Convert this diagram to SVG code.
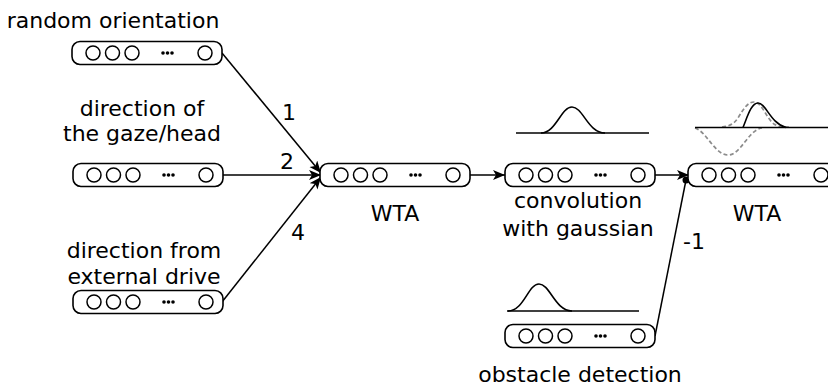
<svg xmlns="http://www.w3.org/2000/svg" width="828" height="389" viewBox="0 0 828 389">
<style>
text{font-family:"DejaVu Sans",sans-serif;font-size:22px;fill:#000;text-anchor:middle}
.box{fill:#fff;stroke:#000;stroke-width:1.6}
.c{fill:none;stroke:#000;stroke-width:1.5}
.dot{fill:#000}
.conn{fill:none;stroke:#000;stroke-width:1.5}
.curve{fill:none;stroke:#000;stroke-width:1.6}
.dash{fill:none;stroke:#8c8c8c;stroke-width:1.7;stroke-dasharray:4 2.5}
</style>
<defs>
<marker id="arr" markerUnits="userSpaceOnUse" markerWidth="14" markerHeight="12" refX="12" refY="5" orient="auto">
<path d="M0,0 L12,5 L0,10 L3,5 z" fill="#000"/>
</marker>
<g id="layer">
<rect class="box" x="0" y="-11.5" width="150" height="23" rx="8"/>
<circle class="c" cx="21" cy="0" r="7"/>
<circle class="c" cx="40.5" cy="0" r="7"/>
<circle class="c" cx="60" cy="0" r="7"/>
<circle class="dot" cx="91" cy="0" r="1.8"/>
<circle class="dot" cx="95.5" cy="0" r="1.8"/>
<circle class="dot" cx="100" cy="0" r="1.8"/>
<circle class="c" cx="133" cy="0" r="7"/>
</g>
</defs>

<g id="connectors">
<line class="conn" x1="222" y1="53" x2="321" y2="173" marker-end="url(#arr)"/>
<line class="conn" x1="222" y1="175" x2="321" y2="175" marker-end="url(#arr)"/>
<line class="conn" x1="222" y1="302" x2="321" y2="177" marker-end="url(#arr)"/>
<line class="conn" x1="470" y1="175" x2="505" y2="175" marker-end="url(#arr)"/>
<line class="conn" x1="655" y1="175" x2="689" y2="175" marker-end="url(#arr)"/>
<line class="conn" x1="655" y1="336" x2="686" y2="180"/>
<circle cx="686" cy="180" r="3.5" fill="#000"/>
<text x="289" y="120">1</text>
<text x="287" y="169">2</text>
<text x="298" y="240">4</text>
<text x="694" y="249">-1</text>
</g>

<g id="random-orientation">
<use href="#layer" x="72" y="53"/>
<text x="113" y="28">random orientation</text>
</g>

<g id="gaze">
<use href="#layer" x="73" y="175"/>
<text x="142" y="116">direction of</text>
<text x="142" y="141">the gaze/head</text>
</g>

<g id="external-drive">
<use href="#layer" x="73" y="302"/>
<text x="144" y="258">direction from</text>
<text x="144" y="284">external drive</text>
</g>

<g id="wta1">
<use href="#layer" x="320" y="175"/>
<text x="395" y="221">WTA</text>
</g>

<g id="convolution">
<use href="#layer" x="505" y="175"/>
<line class="curve" x1="516" y1="133" x2="649" y2="133"/>
<path class="curve" d="M541,133 C556,133 561,107 572,107 C583,107 588,133 605,133"/>
<text x="578" y="208">convolution</text>
<text x="578" y="236">with gaussian</text>
</g>

<g id="obstacle">
<use href="#layer" x="505" y="336"/>
<line class="curve" x1="507" y1="311" x2="639" y2="311"/>
<path class="curve" d="M508,311 C524,311 528,284 539,284 C550,284 555,311 572,311"/>
<text x="580" y="382">obstacle detection</text>
</g>

<g id="wta2">
<use href="#layer" x="688" y="175"/>
<path class="dash" d="M722,127 C730,126 734,124 738,118 C744,108 748,102 754,102 C762,102 766,118 774,124 C779,127 784,127 790,127"/>
<path class="dash" d="M695,128 C707,132 715,155 728,155 C741,155 748,130 762,128"/>
<line class="curve" x1="695" y1="127.5" x2="828" y2="127.5"/>
<path class="curve" d="M743,127.5 C747,118 751,103 758,103 C766,103 770,123 786,127.5"/>
<text x="757" y="221">WTA</text>
</g>
</svg>
